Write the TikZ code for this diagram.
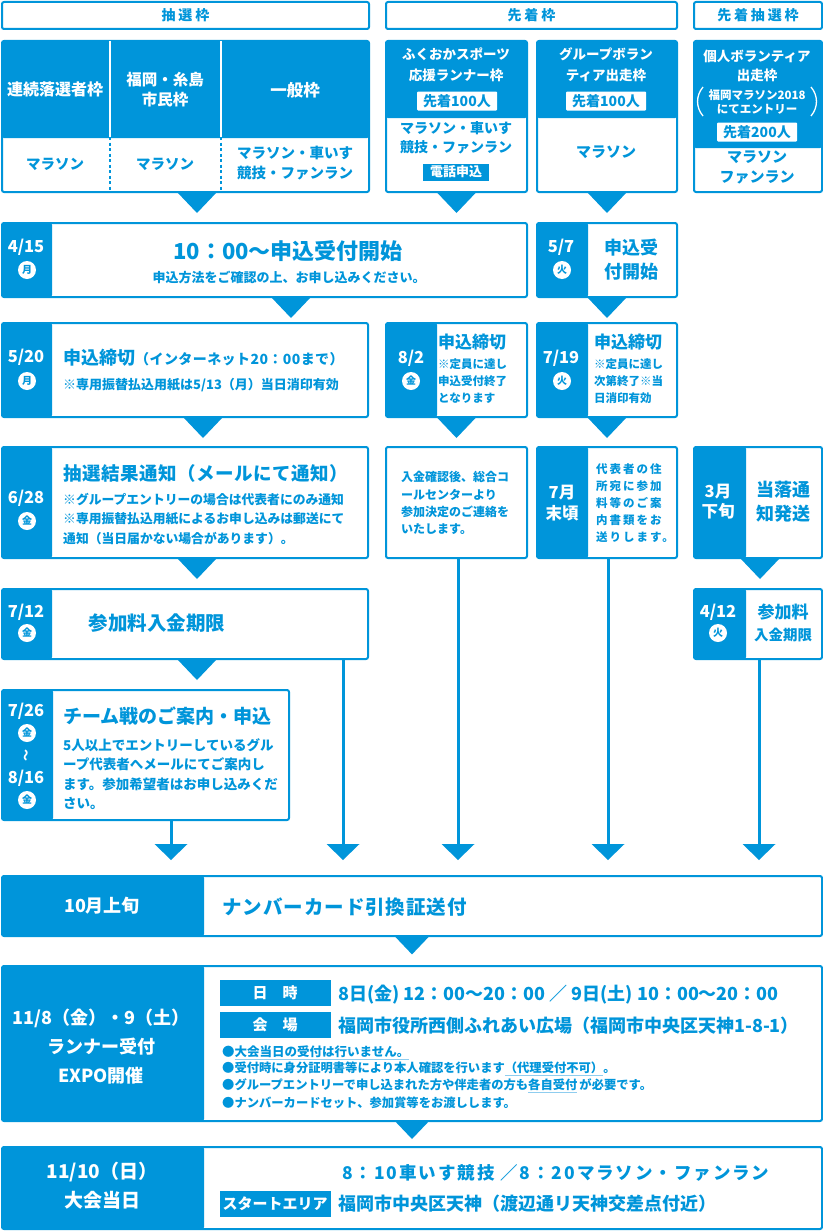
\documentclass[tikz,border=0pt]{standalone}
\usepackage{fontspec}
\setmainfont{Noto Sans CJK JP}
\usepackage{tikz}
\usetikzlibrary{positioning}
\definecolor{runblue}{HTML}{0095DA}
\definecolor{lineblue}{HTML}{8FCDEF}
\newcommand{\fsz}[2]{\fontsize{#1}{#2}\selectfont}
\newcommand{\spaced}[1]{\addfontfeatures{LetterSpace=#1}}
\newcommand{\ulmark}[1]{\setbox0\hbox{#1}\rlap{\textcolor{lineblue}{\rule[-3pt]{\wd0}{0.8pt}}}\box0}
\tikzset{
  card/.style={draw=runblue, line width=2pt, fill=white, rounded corners=2pt,
               anchor=north west, inner sep=0pt},
  datecard/.style={card, path picture={\fill[runblue] (path picture bounding box.north west)
               rectangle ([xshift=#1]path picture bounding box.south west);}},
  topcard/.style={card, path picture={\fill[runblue] (path picture bounding box.north west)
               rectangle ([yshift=-#1]path picture bounding box.north east);}},
  wlab/.style={text=white, align=center, font=\bfseries\fsz{15}{20}},
  blab/.style={text=runblue, align=center, font=\bfseries\fsz{14.5}{20}},
  datetxt/.style={text=white, font=\bfseries\fsz{16.5}{20}},
  dow/.style={circle, fill=white, text=runblue, inner sep=0pt, minimum size=18,
              font=\bfseries\fsz{10}{10}},
  pill/.style={fill=white, rounded corners=1pt, text=runblue, minimum width=80,
               minimum height=19, inner sep=0pt, font=\bfseries\fsz{14}{14}},
  tag/.style={fill=runblue, text=white, minimum width=111, minimum height=26,
              inner sep=0pt, font=\bfseries\fsz{15}{15}},
  note/.style={text=runblue, anchor=west, align=left, inner sep=0pt,
               font=\bfseries\fsz{12}{17}},
  stem/.style={draw=runblue, line width=3pt},
  drop/.pic={\fill[runblue] (-20,-1) -- (20,-1) -- (0,20) -- cycle;},
  arrowend/.pic={\fill[runblue] (-16.5,0) -- (16.5,0) -- (0,16) -- cycle;},
}
\begin{document}
\begin{tikzpicture}[x=1pt, y=-1pt]
\useasboundingbox (0,0) rectangle (822,1231);

% headers
\node[card, minimum width=367, minimum height=27, text=runblue,
      font=\bfseries\fsz{14}{16}\spaced{20}] (hlot) at (1,1) {抽選枠};
\node[card, minimum width=291, minimum height=27, text=runblue,
      font=\bfseries\fsz{14}{16}\spaced{20}] (hfirst) at (385,1) {先着枠};
\node[card, minimum width=128, minimum height=27, text=runblue,
      font=\bfseries\fsz{14}{16}\spaced{20}] (hmix) at (693,1) {先着抽選枠};

% lottery categories
\node[topcard=97, minimum width=367, minimum height=151] (lot) at (1,40) {};
\draw[white, line width=1.5pt] (110,41) -- (110,137) (221,41) -- (221,137);
\draw[runblue, line width=1.5pt, dash pattern=on 3pt off 2.5pt] (110,137) -- (110,190) (221,137) -- (221,190);
\node[wlab, font=\bfseries\fsz{16}{20}] (lotrep) at (55,89) {連続落選者枠};
\node[wlab, font=\bfseries\fsz{15.5}{20}] (lotcity) at (165,90) {福岡・糸島\\市民枠};
\node[wlab, font=\bfseries\fsz{16.5}{20}] (lotgen) at (295,90) {一般枠};
\node[blab] (lotrepc) at (55,164) {マラソン};
\node[blab] (lotcityc) at (165,164) {マラソン};
\node[blab] (lotgenc) at (295,163) {マラソン・車いす\\競技・ファンラン};
\pic at ([xshift=11.5]lot.south) {drop};

% first come
\node[topcard=77, minimum width=141, minimum height=151] (sports) at (385,40) {};
\node[wlab, font=\bfseries\fsz{13.5}{21}] (sportst) at (456,65) {ふくおかスポーツ\\応援ランナー枠};
\node[pill] (sportsn) at (457,101) {先着100人};
\node[blab, font=\bfseries\fsz{14}{19.5}] (sportsc) at (456,138) {マラソン・車いす\\競技・ファンラン};
\node[fill=runblue, text=white, minimum width=66, minimum height=17, inner sep=0pt,
      font=\bfseries\fsz{13}{13}] (sportstel) at (456,172) {電話申込};
\pic at (sports.south) {drop};

\node[topcard=77, minimum width=140, minimum height=151] (volgrp) at (536,40) {};
\node[wlab, font=\bfseries\fsz{13.5}{21}] (volgrpt) at (606,65) {グループボラン\\ティア出走枠};
\node[pill] (volgrpn) at (606,101) {先着100人};
\node[blab, font=\bfseries\fsz{15}{20}] (volgrpc) at (606,152) {マラソン};
\pic at (volgrp.south) {drop};

\node[topcard=107, minimum width=128, minimum height=151] (volind) at (693,40) {};
\node[wlab, font=\bfseries\fsz{13.5}{19}] (volindt) at (757,66) {個人ボランティア\\出走枠};
\node[wlab, font=\bfseries\fsz{11.5}{14}] (volindx) at (757,102) {福岡マラソン2018\\にてエントリー};
\draw[white, line width=1.3pt] (703,87) to[bend right=40] (703,116);
\draw[white, line width=1.3pt] (811,87) to[bend left=40] (811,116);
\node[pill] (volindn) at (757,132) {先着200人};
\node[blab, font=\bfseries\fsz{15}{20}] (volindc) at (757,167) {マラソン\\ファンラン};

% entry open
\node[datecard=50, minimum width=525, minimum height=74] (open) at (1,222) {};
\node[datetxt] (opend) at (26,247) {4/15};
\node[dow] (opendw) at (27,270) {月};
\node[blab, font=\bfseries\fsz{22}{24}] (opent) at (288,251) {10：00〜申込受付開始};
\node[blab, font=\bfseries\fsz{13}{15}] (opens) at (289,277) {申込方法をご確認の上、お申し込みください。};
\pic at ([xshift=26.5]open.south) {drop};

\node[datecard=51, minimum width=140, minimum height=74] (volopen) at (536,222) {};
\node[datetxt] (volopend) at (561,247) {5/7};
\node[dow] (volopendw) at (562,270) {火};
\node[blab, font=\bfseries\fsz{18}{24}] (volopent) at (631,260) {申込受\\付開始};
\pic at (volopen.south) {drop};

% deadlines
\node[datecard=50, minimum width=366, minimum height=94] (close) at (1,322) {};
\node[datetxt] (closed) at (26,357) {5/20};
\node[dow] (closedw) at (27,381) {月};
\node[note, font=\bfseries\fsz{18}{20}] (closet) at (63,358) {申込締切{\fsz{14}{16}\spaced{3}（インターネット20：00まで）}};
\node[note, font=\bfseries\fsz{13}{15}] (closes) at (63,385) {※専用振替払込用紙は5/13（月）当日消印有効};
\pic at ([xshift=18]close.south) {drop};

\node[datecard=51, minimum width=141, minimum height=94] (spclose) at (385,322) {};
\node[datetxt] (spclosed) at (411,358) {8/2};
\node[dow] (spclosedw) at (411,381) {金};
\node[note, font=\bfseries\fsz{17}{20}] (spcloset) at (438,342) {申込締切};
\node[note, font=\bfseries\fsz{11.5}{17}] (spcloses) at (438,381) {※定員に達し\\申込受付終了\\となります};
\pic at (spclose.south) {drop};

\node[datecard=51, minimum width=140, minimum height=94] (vgclose) at (536,322) {};
\node[datetxt] (vgclosed) at (561,358) {7/19};
\node[dow] (vgclosedw) at (562,381) {火};
\node[note, font=\bfseries\fsz{17}{20}] (vgcloset) at (594,342) {申込締切};
\node[note, font=\bfseries\fsz{11.5}{17}] (vgcloses) at (594,381) {※定員に達し\\次第終了※当\\日消印有効};
\pic at (vgclose.south) {drop};

% results
\node[datecard=50, minimum width=366, minimum height=111] (result) at (1,446) {};
\node[datetxt] (resultd) at (26,498) {6/28};
\node[dow] (resultdw) at (27,521) {金};
\node[note, font=\bfseries\fsz{18.5}{20}\spaced{3}] (resultt) at (63,473) {抽選結果通知（メールにて通知）};
\node[note, font=\bfseries\fsz{12.8}{19.5}] (results) at (63,519)
  {※グループエントリーの場合は代表者にのみ通知\\※専用振替払込用紙によるお申し込みは郵送にて\\通知（当日届かない場合があります）。};
\pic at ([xshift=12]result.south) {drop};

\node[card, minimum width=141, minimum height=111] (confirm) at (385,446) {};
\node[note, font=\bfseries\fsz{12}{17.3}] (confirmt) at (401,503)
  {入金確認後、総合コ\\ールセンターより\\参加決定のご連絡を\\いたします。};
\draw[stem] ([xshift=1.5]confirm.south) -- ++(0,285) pic {arrowend};

\node[datecard=51, minimum width=140, minimum height=111] (docs) at (536,446) {};
\node[datetxt, align=center, font=\bfseries\fsz{16.5}{21}] (docsd) at (562,503) {7月\\末頃};
\node[note, font=\bfseries\fsz{11.5}{17}\spaced{17}] (docst) at (596,503)
  {代表者の住\\所宛に参加\\料等のご案\\内書類をお\\送りします。};
\draw[stem] ([xshift=1]docs.south) -- ++(0,285) pic {arrowend};

\node[datecard=52, minimum width=128, minimum height=111] (draw) at (693,446) {};
\node[datetxt, align=center, font=\bfseries\fsz{16.5}{20}] (drawd) at (718,502) {3月\\下旬};
\node[blab, font=\bfseries\fsz{18}{24}] (drawt) at (783,502) {当落通\\知発送};
\pic at ([xshift=2]draw.south) {drop};

% payment
\node[datecard=50, minimum width=366, minimum height=70] (fee) at (1,588) {};
\node[datetxt] (feed) at (26,612) {7/12};
\node[dow] (feedw) at (27,633) {金};
\node[blab, font=\bfseries\fsz{19.5}{20}] (feet) at (157,623) {参加料入金期限};
\pic at ([xshift=12]fee.south) {drop};
\draw[stem] ([xshift=158]fee.south) -- ++(0,184) pic {arrowend};

\node[datecard=52, minimum width=128, minimum height=70] (volfee) at (693,588) {};
\node[datetxt] (volfeed) at (718,612) {4/12};
\node[dow] (volfeedw) at (718,633) {火};
\node[blab, font=\bfseries\fsz{17}{20}] (volfeet) at (783,612) {参加料};
\node[blab, font=\bfseries\fsz{14.5}{20}] (volfees) at (783,635) {入金期限};
\draw[stem] ([xshift=1]volfee.south) -- ++(0,184) pic {arrowend};

% team
\node[datecard=51, minimum width=287, minimum height=130] (team) at (1,689) {};
\node[datetxt] (teamd) at (26,711) {7/26};
\node[dow] (teamdw) at (27,733) {金};
\node[wlab, rotate=90, font=\bfseries\fsz{12}{12}] (teamtl) at (27,755) {〜};
\node[datetxt] (teame) at (26,778) {8/16};
\node[dow] (teamew) at (27,800) {金};
\node[note, font=\bfseries\fsz{19}{20}] (teamt) at (63,716) {チーム戦のご案内・申込};
\node[note, font=\bfseries\fsz{13.5}{19.3}] (teams) at (63,774)
  {5人以上でエントリーしているグル\\ープ代表者へメールにてご案内し\\ます。参加希望者はお申し込みくだ\\さい。};
\draw[stem] ([xshift=25.5]team.south) -- ++(0,23) pic {arrowend};

% number card
\node[datecard=202, minimum width=820, minimum height=60] (card) at (1,875) {};
\node[datetxt, font=\bfseries\fsz{18}{20}] (cardd) at (102,906) {10月上旬};
\node[note, font=\bfseries\fsz{19.5}{20}\spaced{5}] (cardt) at (222,907) {ナンバーカード引換証送付};
\pic[scale=.87] at (card.south) {drop};

% expo
\node[datecard=202, minimum width=820, minimum height=155] (expo) at (1,965) {};
\node[datetxt, align=center, font=\bfseries\fsz{18}{29}] (expod) at (101,1047) {11/8（金）・9（土）\\ランナー受付\\EXPO開催};
\node[tag] (expowhen) at (275,993) {日\quad 時};
\node[tag] (expowhere) at (275,1025) {会\quad 場};
\node[note, font=\bfseries\fsz{18}{20}] (expot) at (338,995) {8日(金) 12：00〜20：00 ／ 9日(土) 10：00〜20：00};
\node[note, font=\bfseries\fsz{18}{20}] (expop) at (338,1026) {福岡市役所西側ふれあい広場（福岡市中央区天神1-8-1）};
\node[note, font=\bfseries\fsz{12.5}{14}] (expon1) at (222,1053) {●\ulmark{大会当日の受付は行いません。}};
\node[note, font=\bfseries\fsz{12.3}{14}] (expon2) at (222,1069) {●受付時に身分証明書等により本人確認を行います\ulmark{（代理受付不可）}。};
\node[note, font=\bfseries\fsz{12.3}{14}] (expon3) at (222,1086) {●グループエントリーで申し込まれた方や伴走者の方も\ulmark{各自受付}\,が必要です。};
\node[note, font=\bfseries\fsz{12.3}{14}] (expon4) at (222,1103) {●ナンバーカードセット、参加賞等をお渡しします。};
\pic[scale=.85] at (expo.south) {drop};

% race day
\node[datecard=202, minimum width=820, minimum height=82] (race) at (1,1146) {};
\node[datetxt, align=center, font=\bfseries\fsz{19}{29}] (raced) at (102,1186) {11/10（日）\\大会当日};
\node[note, font=\bfseries\fsz{17.5}{20}\spaced{11}] (racet) at (342,1173) {8：10車いす競技 ／8：20マラソン・ファンラン};
\node[tag] (racearea) at (275,1204) {スタートエリア};
\node[note, font=\bfseries\fsz{18}{20}] (racep) at (338,1204) {福岡市中央区天神（渡辺通リ天神交差点付近）};
\end{tikzpicture}
\end{document}
